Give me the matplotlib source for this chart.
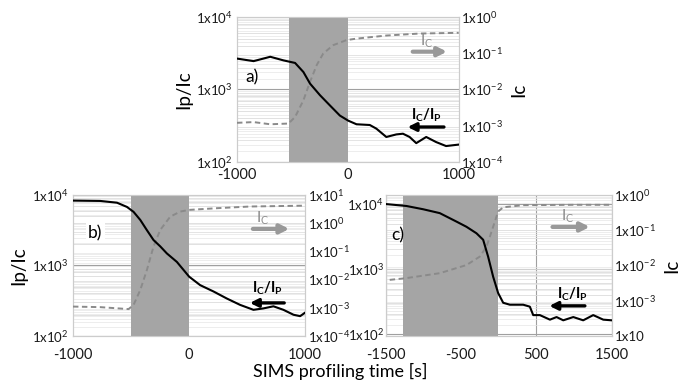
import numpy as np
import matplotlib.pyplot as plt
from matplotlib.ticker import LogLocator, NullFormatter

plt.rcParams['font.family'] = ['Lato', 'DejaVu Sans']
plt.rcParams['mathtext.fontset'] = 'custom'
plt.rcParams['mathtext.rm'] = 'Lato'
plt.rcParams['mathtext.it'] = 'Lato:italic'
plt.rcParams['mathtext.bf'] = 'Lato:bold'

# panel a) values (log10 of the values)
a_t_ratio = [-1000, -850, -700, -580, -476, -401, -341, -251, -162, -72, 3, 78, 198, 257,
             347, 437, 497, 557, 617, 707, 796, 886, 1000]
a_ratio = [3.425, 3.39, 3.45, 3.40, 3.365, 3.24, 3.08, 2.92, 2.78, 2.64, 2.57, 2.52, 2.51, 2.46,
           2.345, 2.38, 2.39, 2.345, 2.26, 2.345, 2.275, 2.22, 2.24]
a_t_ic = [-1000, -850, -700, -536, -476, -401, -341, -281, -222, -132, -12, 78, 347, 647, 1000]
a_ic = [-2.92, -2.90, -2.96, -2.94, -2.76, -2.30, -1.79, -1.33, -1.01, -0.78, -0.64, -0.60,
        -0.515, -0.46, -0.44]

# panel b)
b_t_ratio = [-1000, -765, -621, -535, -478, -420, -363, -306, -248, -191, -105, 1, 96, 211,
             326, 440, 555, 641, 727, 813, 900, 957, 1000]
b_ratio = [3.92, 3.915, 3.89, 3.83, 3.76, 3.645, 3.50, 3.36, 3.27, 3.17, 3.05, 2.84, 2.72, 2.63,
           2.53, 2.44, 2.37, 2.39, 2.42, 2.37, 2.30, 2.28, 2.33]
b_t_ic = [-1000, -765, -521, -478, -420, -363, -306, -248, -162, -76, 1, 240, 527, 1000]
b_ic = [-2.96, -2.98, -3.05, -2.90, -2.37, -1.66, -0.83, -0.24, 0.23, 0.41, 0.47, 0.53, 0.59, 0.62]

# panel c)
c_t_ratio = [-1500, -1225, -1004, -782, -561, -428, -295, -206, -140, -73, -7, 60, 149, 326,
             414, 459, 547, 681, 769, 858, 991, 1123, 1256, 1389, 1500]
c_ratio = [4.0, 3.97, 3.92, 3.86, 3.73, 3.65, 3.55, 3.45, 3.19, 2.88, 2.63, 2.48, 2.45, 2.45,
           2.42, 2.29, 2.29, 2.22, 2.26, 2.21, 2.26, 2.21, 2.29, 2.22, 2.21]
c_t_ic = [-1447, -1225, -782, -428, -251, -162, -73, -7, 60, 326, 991, 1500]
c_ic = [-2.41, -2.36, -2.22, -1.99, -1.75, -1.47, -0.90, -0.47, -0.35, -0.29, -0.28, -0.28]

shade_a = (-530, 0)
shade_b = (-500, 0)
shade_c = (-1275, -10)

xt_ab = [-1000, 0, 1000]
xt_c = [-1500, -500, 500, 1500]
left_ticks = [1e2, 1e3, 1e4]
left_labels = ['1x10$^{2}$', '1x10$^{3}$', '1x10$^{4}$']
right_a = [1e-4, 1e-3, 1e-2, 1e-1, 1e0]
right_a_lab = ['1x10$^{-4}$', '1x10$^{-3}$', '1x10$^{-2}$', '1x10$^{-1}$', '1x10$^{0}$']
right_b = [1e-4, 1e-3, 1e-2, 1e-1, 1e0, 1e1]
right_b_lab = ['1x10$^{-4}$', '1x10$^{-3}$', '1x10$^{-2}$', '1x10$^{-1}$', '1x10$^{0}$', '1x10$^{1}$']
right_c_lab = ['1x10', '1x10$^{-3}$', '1x10$^{-2}$', '1x10$^{-1}$', '1x10$^{0}$']

grid_c = '#dcdcdc'
shade_col = '#a5a5a5'
dash_col = '#8a8a8a'
arrow_gray = '#999999'
txt_c = '#1a1a1a'
tick_fs = 9.5


def panel(rect, t1, y1, t2, y2, shade, xlim, xticks, ylim_l, ylim_r, rticks, rlabels,
          tag, ann, xpad, ypad=3, left_lab=False, right_lab=False, vgrid=False, tagbox=False):
    # bottom layer: left scale, ticks and grid
    ax = fig.add_axes(rect)
    ax.set_yscale('log')
    ax.set_xlim(xlim)
    ax.set_ylim(ylim_l)
    ax.set_xticks(xticks)
    ax.set_xticklabels([str(v) for v in xticks])
    ax.set_yticks(left_ticks)
    ax.set_yticklabels(left_labels)
    ax.yaxis.set_minor_locator(LogLocator(subs=np.arange(2, 10)))
    ax.yaxis.set_minor_formatter(NullFormatter())
    ax.grid(which='minor', axis='y', color=grid_c, lw=0.6)
    ax.grid(which='major', axis='y', color='#a0a0a0', lw=0.8)
    if vgrid:
        ax.grid(which='major', axis='x', color='#a0a0a0', lw=0.8)
    ax.tick_params(which='both', length=0, labelsize=tick_fs, colors=txt_c)
    ax.tick_params(axis='y', pad=ypad)
    ax.tick_params(axis='x', pad=xpad, labelsize=10.5)
    for s in ax.spines.values():
        s.set_color('#cccccc')
        s.set_linewidth(0.8)

    # middle layer: right scale, its grid, the shaded band and the dashed Ic curve
    tw = ax.twinx()
    tw.set_yscale('log')
    tw.set_ylim(ylim_r)
    tw.set_yticks(rticks)
    tw.set_yticklabels(rlabels)
    tw.yaxis.set_minor_locator(LogLocator(subs=np.arange(2, 10)))
    tw.yaxis.set_minor_formatter(NullFormatter())
    tw.grid(which='minor', axis='y', color='#e6e6e6', lw=0.5)
    tw.set_axisbelow(True)
    tw.axvspan(shade[0], shade[1], color=shade_col, lw=0, zorder=1)
    tw.plot(t2, 10 ** np.array(y2), color=dash_col, lw=1.4, ls=(0, (2.8, 1.8)), zorder=3)
    tw.tick_params(which='both', length=0, labelsize=tick_fs, pad=2, colors=txt_c)
    for s in tw.spines.values():
        s.set_color('#cccccc')
        s.set_linewidth(0.8)

    # top layer: solid Ip/Ic curve on the left scale
    top = ax.twinx()
    top.set_yscale('log')
    top.set_ylim(ylim_l)
    top.plot(t1, 10 ** np.array(y1), color='black', lw=1.5)
    top.set_yticks([])
    top.yaxis.set_minor_locator(plt.NullLocator())
    for s in top.spines.values():
        s.set_visible(False)

    if left_lab:
        ax.set_ylabel('Ip/Ic', fontsize=13.5, labelpad=3)
    if right_lab:
        tw.set_ylabel('Ic', fontsize=13.5, labelpad=5)

    box = dict(facecolor='white', edgecolor='none', pad=1.5) if tagbox else None
    top.text(tag[0], tag[1], tag[2], transform=top.transAxes, fontsize=12.5,
             ha='left', va='center', bbox=box, zorder=6)
    g0, g1, gy, gtx, gty, b0, b1, by, btx, bty = ann
    top.annotate('', xy=(g1, gy), xytext=(g0, gy), xycoords='axes fraction',
                 arrowprops=dict(arrowstyle='-|>', color=arrow_gray, lw=3.0, mutation_scale=13),
                 zorder=7)
    top.text(gtx, gty, 'I$_{\\mathrm{C}}$', transform=top.transAxes, color='#8c8c8c',
             fontsize=11, ha='center', va='center', zorder=7)
    top.annotate('', xy=(b1, by), xytext=(b0, by), xycoords='axes fraction',
                 arrowprops=dict(arrowstyle='-|>', color='black', lw=2.4, mutation_scale=12),
                 zorder=7)
    top.text(btx, bty, '$\\mathbf{I_C/I_P}$', transform=top.transAxes, color='black',
             fontsize=10.5, ha='center', va='center', zorder=7)
    return ax


fig = plt.figure(figsize=(6.95, 3.83), dpi=100)

panel([0.341, 0.577, 0.319, 0.379], a_t_ratio, a_ratio, a_t_ic, a_ic, shade_a,
      (-1000, 1000), xt_ab, (1e2, 1e4), (1e-4, 1e0), right_a, right_a_lab,
      (0.04, 0.586, 'a)'),
      (0.78, 0.96, 0.76, 0.856, 0.835, 0.946, 0.757, 0.241, 0.856, 0.32),
      xpad=4.5, left_lab=True, right_lab=True)

panel([0.105, 0.123, 0.334, 0.368], b_t_ratio, b_ratio, b_t_ic, b_ic, shade_b,
      (-1000, 1000), xt_ab, (1e2, 1e4), (1e-4, 1e1), right_b, right_b_lab,
      (0.065, 0.73, 'b)'),
      (0.763, 0.944, 0.759, 0.819, 0.835, 0.922, 0.75, 0.234, 0.84, 0.335),
      xpad=9, left_lab=True, tagbox=True)

panel([0.555, 0.123, 0.325, 0.368], c_t_ratio, c_ratio, c_t_ic, c_ic, shade_c,
      (-1500, 1500), xt_c, (10 ** 1.97, 10 ** 4.14), (1e-4, 1e0), right_a, right_c_lab,
      (0.025, 0.716, 'c)'),
      (0.726, 0.916, 0.773, 0.805, 0.845, 0.894, 0.712, 0.213, 0.827, 0.295),
      xpad=9, ypad=1, right_lab=True, vgrid=True)

fig.text(0.49, 0.03, 'SIMS profiling time [s]', fontsize=13, ha='center', va='center')

fig.savefig('out.png', dpi=100)
